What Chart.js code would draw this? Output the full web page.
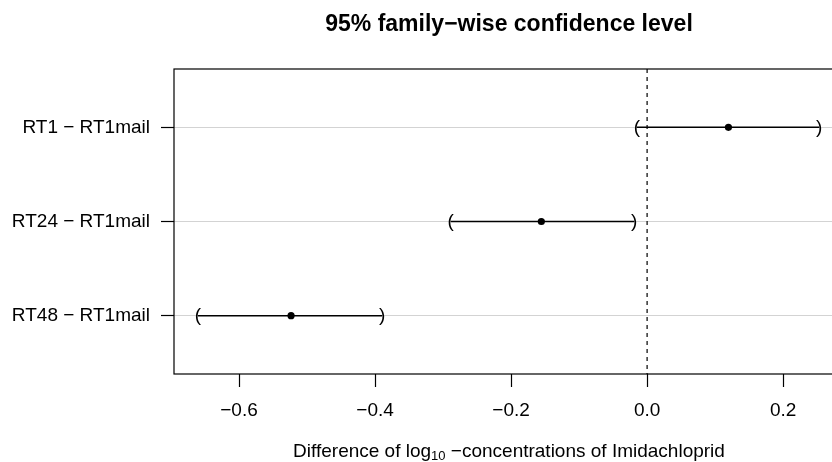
<!DOCTYPE html>
<html>
<head>
<meta charset="utf-8">
<script src="https://cdn.jsdelivr.net/npm/chart.js@4/dist/chart.umd.min.js"></script>
<style>
    html, body { margin: 0; padding: 0; background: #fff; overflow: hidden; }
    #wrap { width: 860px; height: 462px; }
</style>
</head>
<body>
<div id="wrap"><canvas id="grafico" width="860" height="462"></canvas></div>
<script>
    // comparisons, top to bottom
    const comparisons = ["RT1 − RT1mail", "RT24 − RT1mail", "RT48 − RT1mail"];
    const rows = [3, 2, 1];
    const estimates = [0.1196, -0.1555, -0.5235];
    const lowers = [-0.0151, -0.2887, -0.6603];
    const uppers = [0.2529, -0.0191, -0.3897];

    const xTicks = [-0.6, -0.4, -0.2, 0.0, 0.2];
    const xRange = [-0.6956, 0.2895];
    const yRange = [0.38, 3.62];

    const title = "95% family−wise confidence level";
    const xLabel = ["Difference of log", "10", " −concentrations of Imidachloprid"];

    const family = '"Liberation Sans", Arial, Helvetica, sans-serif';
    const fmt = v => v.toFixed(1).replace("-", "−");

    /* =============================
         extras: zero line, brackets, box, titles
    ============================= */
    const extras = {
        id: "extras",
        afterDatasetsDraw(chart) {
            const { ctx, chartArea: a, scales: { x, y } } = chart;
            ctx.save();
            ctx.strokeStyle = "#000";
            ctx.fillStyle = "#000";

            // dashed line at zero
            const x0 = x.getPixelForValue(0);
            ctx.lineWidth = 1.2;
            ctx.setLineDash([4, 4]);
            ctx.beginPath();
            ctx.moveTo(x0, a.top);
            ctx.lineTo(x0, a.bottom);
            ctx.stroke();
            ctx.setLineDash([]);

            // interval ends
            ctx.font = `19px ${family}`;
            ctx.textAlign = "center";
            ctx.textBaseline = "middle";
            rows.forEach((r, i) => {
                const py = y.getPixelForValue(r);
                ctx.fillText("(", x.getPixelForValue(lowers[i]), py);
                ctx.fillText(")", x.getPixelForValue(uppers[i]), py);
            });

            // box
            ctx.lineWidth = 1.2;
            ctx.strokeRect(a.left, a.top, a.right - a.left, a.bottom - a.top);

            // title
            const cx = (a.left + a.right) / 2;
            ctx.textBaseline = "alphabetic";
            ctx.font = `bold 23px ${family}`;
            ctx.fillText(title, cx, 31);

            // x label with subscript
            ctx.textAlign = "left";
            ctx.font = `19px ${family}`;
            const w1 = ctx.measureText(xLabel[0]).width;
            const w3 = ctx.measureText(xLabel[2]).width;
            ctx.font = `13px ${family}`;
            const w2 = ctx.measureText(xLabel[1]).width;
            let sx = cx - (w1 + w2 + w3) / 2;
            ctx.font = `19px ${family}`;
            ctx.fillText(xLabel[0], sx, 457);
            ctx.font = `13px ${family}`;
            ctx.fillText(xLabel[1], sx + w1, 460);
            ctx.font = `19px ${family}`;
            ctx.fillText(xLabel[2], sx + w1 + w2, 457);

            ctx.restore();
        }
    };

    const intervalSets = comparisons.map((c, i) => ({
        label: c,
        data: [{ x: lowers[i], y: rows[i] }, { x: uppers[i], y: rows[i] }],
        showLine: true,
        borderColor: "#000",
        borderWidth: 1.5,
        pointRadius: 0
    }));

    new Chart(document.getElementById("grafico"), {
        type: "scatter",
        data: {
            datasets: [
                ...intervalSets,
                {
                    label: "estimate",
                    data: estimates.map((e, i) => ({ x: e, y: rows[i] })),
                    pointRadius: 3.6,
                    backgroundColor: "#000",
                    borderColor: "#000",
                    borderWidth: 0
                }
            ]
        },
        options: {
            responsive: false,
            animation: false,
            devicePixelRatio: 1,
            layout: { padding: { top: 69, right: 16, left: 0, bottom: 0 } },
            plugins: { legend: { display: false }, tooltip: { enabled: false }, title: { display: false } },
            scales: {
                x: {
                    type: "linear",
                    min: xRange[0],
                    max: xRange[1],
                    afterBuildTicks: s => { s.ticks = xTicks.map(v => ({ value: v })); },
                    afterFit: s => { s.height = 88; },
                    border: { display: false },
                    grid: { drawOnChartArea: false, drawTicks: true, tickLength: 13, tickColor: "#000", tickWidth: 1.2 },
                    ticks: {
                        color: "#000",
                        font: { family: family, size: 19 },
                        padding: 12,
                        maxRotation: 0,
                        autoSkip: false,
                        callback: v => fmt(v)
                    }
                },
                y: {
                    type: "linear",
                    min: yRange[0],
                    max: yRange[1],
                    afterBuildTicks: s => { s.ticks = rows.map(v => ({ value: v })); },
                    afterFit: s => { s.width = 174; },
                    border: { display: false },
                    grid: { color: "#d3d3d3", lineWidth: 1, tickLength: 13, tickColor: "#000", tickWidth: 1.2 },
                    ticks: {
                        color: "#000",
                        font: { family: family, size: 19 },
                        padding: 11,
                        autoSkip: false,
                        callback: v => comparisons[rows.indexOf(v)]
                    }
                }
            }
        },
        plugins: [extras]
    });
</script>
</body>
</html>
